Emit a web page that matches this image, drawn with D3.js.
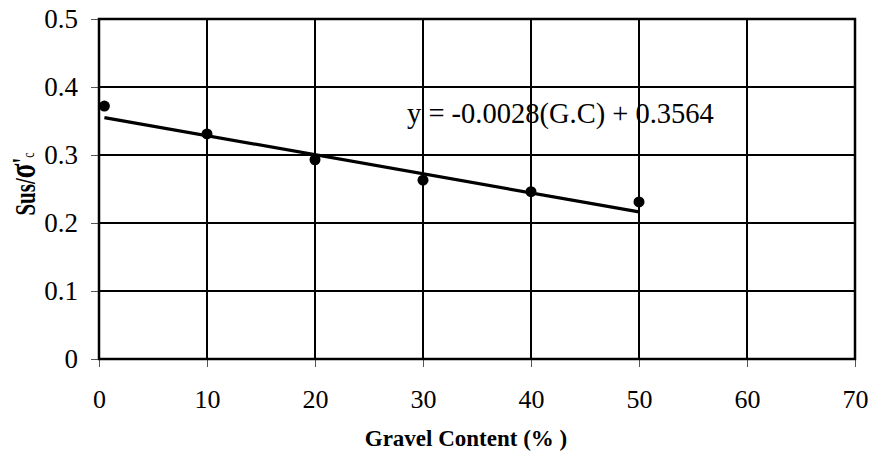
<!DOCTYPE html>
<html>
<head>
<meta charset="utf-8">
<script src="https://cdn.jsdelivr.net/npm/d3@7"></script>
<style>
  html, body { margin: 0; padding: 0; background: #fff; }
  svg { display: block; }
</style>
</head>
<body>
<svg id="chart" width="870" height="454"></svg>
<script>
// Data
const gravelContent = [0.5, 10, 20, 30, 40, 50];
const susRatio = [0.372, 0.331, 0.293, 0.263, 0.246, 0.231];
const xTicks = [0, 10, 20, 30, 40, 50, 60, 70];
const yTicks = [0, 0.1, 0.2, 0.3, 0.4, 0.5];
const trendCoef = [-0.0028, 0.3564]; // slope, intercept from the equation label
const trendRange = [0.5, 50];
const equationLabel = ["y = -0.0028(G.C) + 0.3564"];
const xTitle = ["Gravel Content (% )"];

const FONT = "'Liberation Serif', 'Times New Roman', serif";
const svg = d3.select("#chart");
const pLeft = 99, pRight = 855, pTop = 19, pBottom = 359;

const x = d3.scaleLinear().domain([0, 70]).range([pLeft, pRight]);
const y = d3.scaleLinear().domain([0, 0.5]).range([pBottom, pTop]);

// Gridlines
const grid = svg.append("g");
grid.selectAll("line.v").data(xTicks.slice(1, -1)).enter().append("line")
  .attr("x1", d => x(d)).attr("x2", d => x(d))
  .attr("y1", pTop).attr("y2", pBottom)
  .attr("stroke", "#000").attr("stroke-width", 2);
grid.selectAll("line.h").data(yTicks.slice(1, -1)).enter().append("line")
  .attr("x1", pLeft).attr("x2", pRight)
  .attr("y1", d => y(d)).attr("y2", d => y(d))
  .attr("stroke", "#000").attr("stroke-width", 2);

// Axes (tick marks outside)
const xAxis = d3.axisBottom(x).tickValues(xTicks).tickSize(8).tickFormat(d => d);
const yAxis = d3.axisLeft(y).tickValues(yTicks).tickSize(8).tickFormat(d => d);

const gx = svg.append("g").attr("transform", `translate(0,${pBottom})`).call(xAxis);
gx.select(".domain").remove();
gx.selectAll(".tick line").attr("stroke", "#555").attr("stroke-width", 1);
gx.selectAll(".tick text").style("font-family", FONT).style("font-size", "26px")
  .attr("dy", null).attr("y", 49).attr("fill", "#000");

const gy = svg.append("g").attr("transform", `translate(${pLeft},0)`).call(yAxis);
gy.select(".domain").remove();
gy.selectAll(".tick line").attr("stroke", "#555").attr("stroke-width", 1);
gy.selectAll(".tick text").style("font-family", FONT).style("font-size", "27px")
  .attr("x", -21).attr("dy", "0.33em").attr("fill", "#000");

// Plot border
svg.append("rect").attr("x", pLeft).attr("y", pTop)
  .attr("width", pRight - pLeft).attr("height", pBottom - pTop)
  .attr("fill", "none").attr("stroke", "#000").attr("stroke-width", 2.5);

// Trend line
const trendPts = trendRange.map(v => [v, trendCoef[0] * v + trendCoef[1]]);
svg.append("path")
  .attr("d", d3.line().x(d => x(d[0])).y(d => y(d[1]))(trendPts))
  .attr("stroke", "#000").attr("stroke-width", 3.2).attr("fill", "none");

// Points
svg.append("g").selectAll("circle").data(gravelContent).enter().append("circle")
  .attr("cx", d => x(d)).attr("cy", (d, i) => y(susRatio[i]))
  .attr("r", 5.5).attr("fill", "#000");

// Equation label
svg.append("text").attr("x", 407).attr("y", 123)
  .style("font-family", FONT).style("font-size", "28.5px").attr("fill", "#000")
  .text(equationLabel[0]);

// X axis title
svg.append("text").attr("x", 466).attr("y", 446)
  .attr("text-anchor", "middle").style("font-family", FONT)
  .style("font-weight", "bold").style("font-size", "23px").attr("fill", "#000")
  .text(xTitle[0]);

// Y axis title
const yt = svg.append("text")
  .attr("transform", "translate(35,184) rotate(-90) scale(1,1.4)")
  .attr("text-anchor", "middle").style("font-family", FONT)
  .style("font-weight", "bold").style("font-size", "21px").attr("fill", "#000");
yt.append("tspan").text("Sus/");
yt.append("tspan").style("font-size", "27px").text("σ");
yt.append("tspan").attr("dy", -2).text("'");
yt.append("tspan").style("font-size", "12px").style("font-weight", "normal").attr("dy", 1).text("c");
</script>
</body>
</html>
